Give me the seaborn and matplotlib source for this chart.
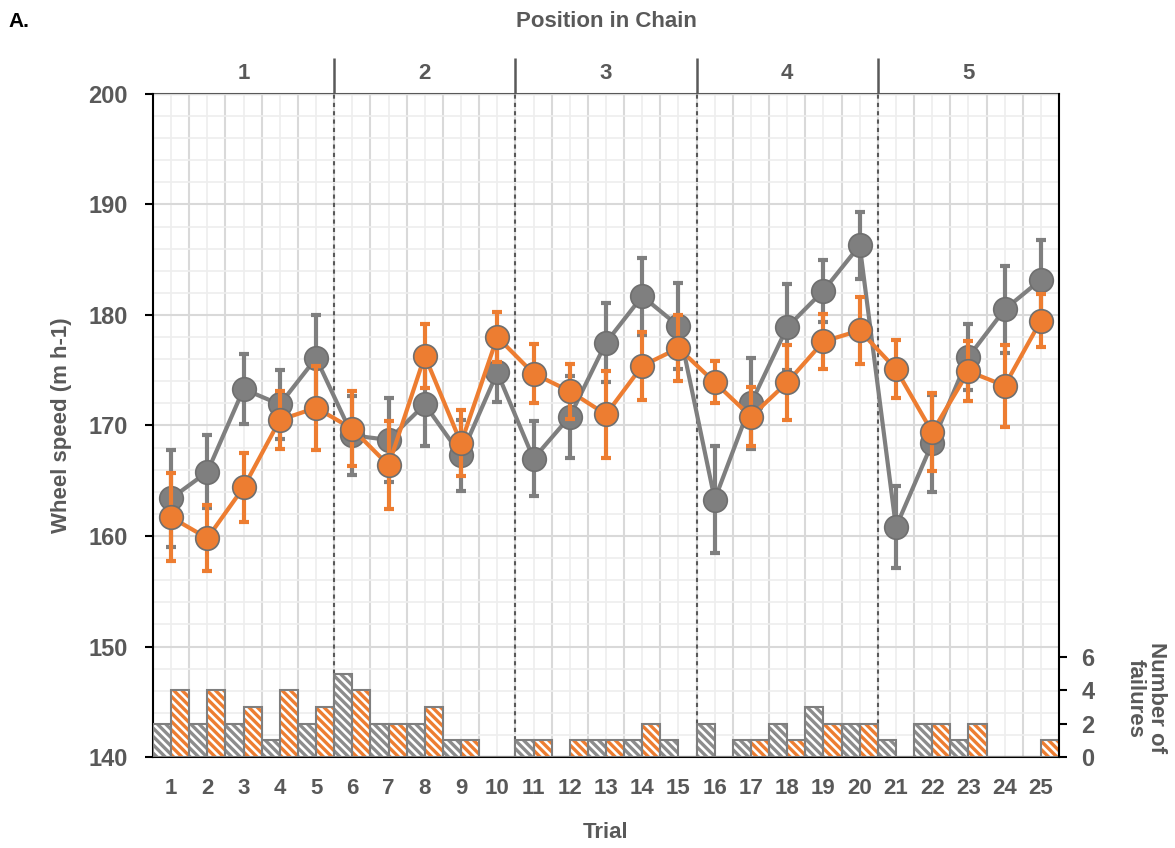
import numpy as np
import pandas as pd
import matplotlib
matplotlib.use("Agg")
import matplotlib.pyplot as plt
import seaborn as sns
from matplotlib.patches import Rectangle
from matplotlib.ticker import FixedLocator, FixedFormatter, MultipleLocator, NullFormatter

# values
trials = list(range(1, 26))
chain_pos = ['1', '2', '3', '4', '5']
chain_centres = [3, 8, 13, 18, 23]
chain_breaks = [5.5, 10.5, 15.5, 20.5]

speed_grey = [163.4, 165.8, 173.3, 171.9, 176.1, 169.1, 168.7, 171.9, 167.3, 174.8,
              167.0, 170.8, 177.5, 181.7, 179.0, 163.3, 172.0, 178.9, 182.2, 186.3,
              160.8, 168.4, 176.2, 180.5, 183.2]
err_grey = [4.4, 3.3, 3.2, 3.1, 3.9, 3.6, 3.8, 3.8, 3.2, 2.7,
            3.4, 3.7, 3.6, 3.5, 3.9, 4.8, 4.1, 3.9, 2.8, 3.0,
            3.7, 4.4, 3.0, 3.9, 3.6]
speed_orange = [161.7, 159.8, 164.4, 170.5, 171.6, 169.7, 166.4, 176.3, 168.4, 178.0,
                174.7, 173.1, 171.0, 175.4, 177.0, 173.9, 170.8, 173.9, 177.6, 178.6,
                175.1, 169.4, 174.9, 173.6, 179.5]
err_orange = [4.0, 3.0, 3.1, 2.6, 3.8, 3.4, 4.0, 2.9, 3.0, 2.3,
              2.7, 2.5, 3.9, 3.1, 3.0, 1.9, 2.7, 3.4, 2.5, 3.0,
              2.6, 3.5, 2.7, 3.7, 2.4]
fail_grey = [2, 2, 2, 1, 2, 5, 2, 2, 1, 0, 1, 0, 1, 1, 1, 2, 1, 2, 3, 2, 1, 2, 1, 0, 0]
fail_orange = [4, 4, 3, 4, 3, 4, 2, 3, 1, 0, 1, 1, 1, 2, 0, 0, 1, 1, 2, 2, 0, 2, 2, 0, 1]

GREY = '#7f7f7f'
ORANGE = '#ed7d31'
TXT = '#595959'

speed = pd.DataFrame({
    'trial': trials * 2,
    'speed': speed_grey + speed_orange,
    'err': err_grey + err_orange,
    'group': ['grey'] * 25 + ['orange'] * 25,
})
fails = pd.DataFrame({
    'trial': trials * 2,
    'failures': fail_grey + fail_orange,
    'group': ['grey'] * 25 + ['orange'] * 25,
})

sns.set_style('white')
plt.rcParams['font.family'] = ['Liberation Sans', 'DejaVu Sans']
plt.rcParams['font.weight'] = 'bold'
plt.rcParams['axes.labelweight'] = 'bold'
plt.rcParams['hatch.linewidth'] = 2.4

fig = plt.figure(figsize=(11.75, 8.48), dpi=100)
ax = fig.add_axes([0.1302, 0.1073, 0.7711, 0.7819])

# speed lines + error bars
zs = {'grey': 3, 'orange': 5}
cols = {'grey': GREY, 'orange': ORANGE}
for g in ['grey', 'orange']:
    d = speed[speed.group == g]
    ax.errorbar(d.trial, d.speed, yerr=d.err, fmt='none', ecolor=cols[g],
                elinewidth=3, capsize=3.5, capthick=3, zorder=zs[g])
    sns.lineplot(data=d, x='trial', y='speed', color=cols[g], marker='o',
                 markersize=17, lw=3, markeredgecolor='#6f6f6f',
                 markeredgewidth=1.2, errorbar=None, ax=ax, zorder=zs[g] + 0.5)

for b in chain_breaks:
    ax.axvline(b, color=TXT, lw=1.5, ls=(0, (2, 2)), zorder=1.5)

ax.set_xlim(0.5, 25.5)
ax.set_ylim(140, 200)
ax.xaxis.set_major_locator(FixedLocator(np.arange(0.5, 26, 1)))
ax.xaxis.set_major_formatter(NullFormatter())
ax.xaxis.set_minor_locator(FixedLocator(trials))
ax.xaxis.set_minor_formatter(FixedFormatter([str(t) for t in trials]))
ax.yaxis.set_major_locator(MultipleLocator(10))
ax.yaxis.set_minor_locator(MultipleLocator(2))
ax.tick_params(axis='x', which='major', length=6, width=1.5, color='black', direction='out')
ax.tick_params(axis='x', which='minor', length=0, pad=15, labelsize=16, labelcolor=TXT)
ax.tick_params(axis='y', which='major', length=6, width=1.5, color='black', direction='out',
               pad=12, labelsize=17, labelcolor=TXT, left=True)
ax.tick_params(axis='y', which='minor', length=0)
ax.grid(which='major', color='#d9d9d9', lw=1.5)
ax.grid(which='minor', color='#eeeeee', lw=1.2)
ax.set_axisbelow(True)
for s in ['left', 'bottom']:
    ax.spines[s].set_color('black')
    ax.spines[s].set_linewidth(1.5)
ax.spines['top'].set_visible(False)
ax.spines['right'].set_visible(False)
ax.set_xlabel('Trial', fontsize=16, color=TXT, labelpad=17)
ax.set_ylabel('Wheel speed (m h-1)', fontsize=16, color=TXT, labelpad=12)

# top axis with chain positions
sec = ax.secondary_xaxis('top')
sec.xaxis.set_major_locator(FixedLocator(chain_breaks))
sec.xaxis.set_major_formatter(NullFormatter())
sec.xaxis.set_minor_locator(FixedLocator(chain_centres))
sec.xaxis.set_minor_formatter(FixedFormatter(chain_pos))
sec.tick_params(which='major', length=26, width=1.8, color=TXT, direction='out')
sec.tick_params(which='minor', length=0, pad=7, labelsize=16, labelcolor=TXT)
sec.spines['top'].set_color(TXT)
sec.spines['top'].set_linewidth(1.5)
sec.set_xlabel('Position in Chain', fontsize=16, color=TXT, labelpad=19)

# failures bars on a twin axis
ax2 = ax.twinx()
sns.barplot(data=fails, x='trial', y='failures', hue='group', palette=[GREY, ORANGE],
            native_scale=True, width=1, gap=0, errorbar=None, legend=False, ax=ax2)
for cont, c in zip(ax2.containers, ['#8c8c8c', ORANGE]):
    for bar in cont:
        bar.set_facecolor('white')
        bar.set_edgecolor(c)
        bar.set_hatch('\\\\\\\\')
        bar.set_linewidth(0)
        ax2.add_patch(Rectangle(bar.get_xy(), bar.get_width(), bar.get_height(),
                                fill=False, ec=GREY, lw=1.5, zorder=bar.get_zorder() + 0.1))
ax2.set_ylim(0, 39.8)
ax.set_xlim(0.5, 25.5)
ax2.set_yticks([0, 2, 4, 6])
ax2.set_xlabel('')
ax2.set_ylabel('')
ax2.grid(False)
ax2.tick_params(axis='y', length=6, width=1.5, color='black', direction='out', pad=10,
                labelsize=17, labelcolor=TXT, right=True)
for s in ['left', 'top', 'bottom']:
    ax2.spines[s].set_visible(False)
ax2.spines['right'].set_color('black')
ax2.spines['right'].set_linewidth(1.5)

fig.text(1146 / 1175, 1 - 698 / 848, 'Number of\nfailures', rotation=270, ha='center',
         va='center', fontsize=16, color=TXT, linespacing=1.0)
fig.text(0.007, 0.975, 'A.', fontsize=15, color='black', va='center')

fig.savefig('out.png', dpi=100)
